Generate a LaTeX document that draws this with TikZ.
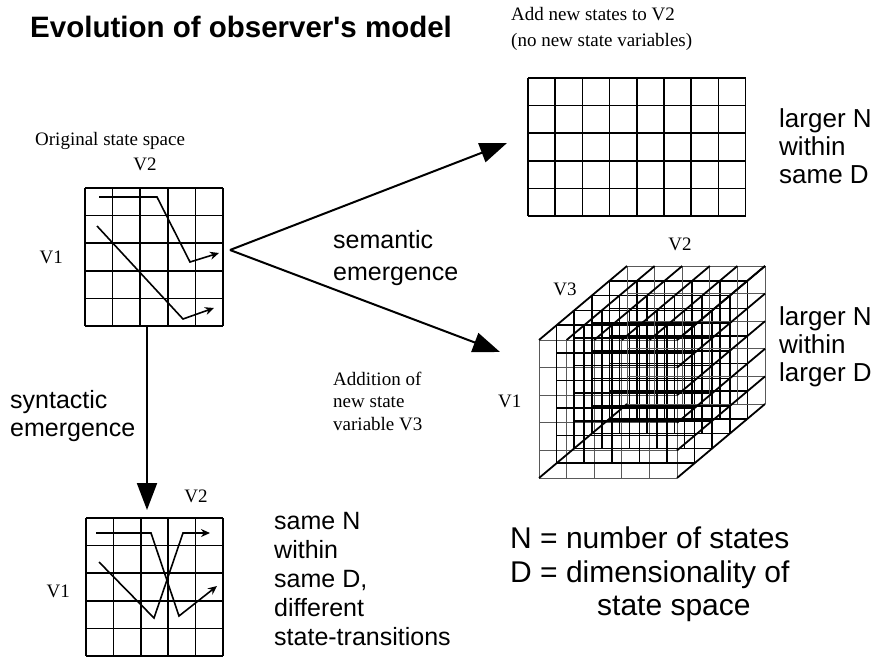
\documentclass[tikz,border=0pt]{standalone}
\usepackage{fontspec}
\setmainfont{Liberation Serif}
\setsansfont{Liberation Sans}
\usetikzlibrary{positioning, calc, arrows.meta}

\tikzset{
    gridline/.style={line width=1.6pt, color=black},
    thingrid/.style={line width=1pt, color=black!65},
    depthline/.style={line width=1.8pt, color=black},
    track/.style={line width=1.6pt, -{Stealth[length=9pt,width=8pt]}},
    emerge/.style={line width=2pt, -{Triangle[length=27pt,width=20pt]}},
    sanstext/.style={font=\sffamily\fontsize{25}{29}\selectfont, align=left, anchor=base west, inner sep=0pt},
    bigtext/.style={font=\sffamily\fontsize{30}{34}\selectfont, anchor=base west, inner sep=0pt},
    seriftext/.style={font=\fontsize{19}{22.5}\selectfont, align=left, anchor=base west, inner sep=0pt},
}

\begin{document}
\begin{tikzpicture}[x=1pt, y=-1pt]

    \useasboundingbox (0,0) rectangle (882,656);

    % Title
    \node[font=\sffamily\bfseries\fontsize{29.5}{34}\selectfont, anchor=base west, inner sep=0pt] (title) at (30,37) {Evolution of observer\textquotesingle s model};

    % ==========================================
    % ORIGINAL STATE SPACE (left, top)
    % ==========================================
    \begin{scope}[shift={(85,188)}]
        \foreach \i in {0,...,5} {
            \draw[gridline] ({27.6*\i},0) -- ({27.6*\i},138);
            \draw[gridline] (0,{27.6*\i}) -- (138,{27.6*\i});
        }
    \end{scope}
    \draw[track] (99,197) -- (157,197) -- (190,262) -- (219,253);
    \draw[track] (97,226) -- (183,319) -- (214,308);

    \node[seriftext] (origlabel) at (35,145) {Original state space};
    \node[seriftext, anchor=base] (origv2) at (145,170) {V2};
    \node[seriftext, anchor=base east] (origv1) at (63,263) {V1};

    % ==========================================
    % SAME D, NEW TRANSITIONS (left, bottom)
    % ==========================================
    \begin{scope}[shift={(86,518)}]
        \foreach \i in {0,...,5} {
            \draw[gridline] ({27.4*\i},0) -- ({27.4*\i},138);
            \draw[gridline] (0,{27.6*\i}) -- (137,{27.6*\i});
        }
    \end{scope}
    \draw[track] (96,533) -- (151,533) -- (179,616) -- (217,586);
    \draw[track] (99,562) -- (154,618) -- (183,533) -- (210,533);

    \node[seriftext, anchor=base] (synv2) at (196,502) {V2};
    \node[seriftext, anchor=base east] (synv1) at (70,597) {V1};

    % multi-line nodes sit on the baseline of their last line
    \node[sanstext] (samenote) at (274,645) {same N\\within\\same D,\\different\\state-transitions};

    % ==========================================
    % MORE STATES, SAME D (right, top)
    % ==========================================
    \begin{scope}[shift={(528,78)}]
        \foreach \i in {0,...,8}
            \draw[gridline] ({27.2*\i},0) -- ({27.2*\i},138);
        \foreach \j in {0,...,5}
            \draw[gridline] (0,{27.6*\j}) -- (217.6,{27.6*\j});
    \end{scope}

    \node[seriftext, font=\fontsize{19}{26}\selectfont] (addnote) at (511,46) {Add new states to V2\\(no new state variables)};
    \node[sanstext, font=\sffamily\fontsize{26}{28}\selectfont] (largersame) at (779,183) {larger N\\within\\same D};

    % ==========================================
    % NEW STATE VARIABLE (right, cube)
    % ==========================================
    \begin{scope}[shift={(539,478)}]
        % depth layers
        \foreach \k in {0,...,5} {
            \ifnum\k=0 \def\lay{thingrid}\else\ifnum\k=5 \def\lay{thingrid}\else\def\lay{gridline}\fi\fi
            \foreach \i in {0,...,5} {
                \draw[\lay] ({27.6*\i+17.6*\k},{-14.8*\k}) -- ({27.6*\i+17.6*\k},{-138-14.8*\k});
                \draw[\lay] ({17.6*\k},{-27.6*\i-14.8*\k}) -- ({138+17.6*\k},{-27.6*\i-14.8*\k});
            }
        }
        % depth lines on top and right faces
        \foreach \i in {0,...,5} {
            \draw[depthline] ({27.6*\i},-138) -- ({27.6*\i+88},-212);
            \draw[depthline] (138,{-27.6*\i}) -- (226,{-27.6*\i-74});
        }
        \draw[depthline] (0,0) -- (88,-74);
    \end{scope}

    \node[seriftext, anchor=base] (cubev2) at (680,250) {V2};
    \node[seriftext, anchor=base] (cubev3) at (565,295) {V3};
    \node[seriftext] (cubev1) at (498,407) {V1};
    \node[sanstext, font=\sffamily\fontsize{26}{28}\selectfont] (largerlarger) at (779,381) {larger N\\within\\larger D};

    % ==========================================
    % EMERGENCE ARROWS
    % ==========================================
    \coordinate (fork) at (230,250);
    \coordinate (topgrid) at (507,143);
    \coordinate (cube) at (500,352);
    \coordinate (origbottom) at (147,325);
    \coordinate (syngrid) at (147,510);

    \draw[emerge] (fork) -- (topgrid);
    \draw[emerge] (fork) -- (cube);
    \draw[emerge] (origbottom) -- (syngrid);

    \node[sanstext, font=\sffamily\fontsize{25}{32}\selectfont] (semnote) at (333,280) {semantic\\emergence};
    \node[seriftext] (addvar) at (333,430) {Addition of\\new state\\variable V3};
    \node[sanstext, font=\sffamily\fontsize{25}{28}\selectfont] (synnote) at (10,436) {syntactic\\emergence};

    % Legend
    \node[bigtext] (nlegend) at (510,548) {N = number of states};
    \node[bigtext] (dlegend) at (510,582) {D = dimensionality of};
    \node[bigtext] (dlegendb) at (597,615) {state space};

\end{tikzpicture}
\end{document}
